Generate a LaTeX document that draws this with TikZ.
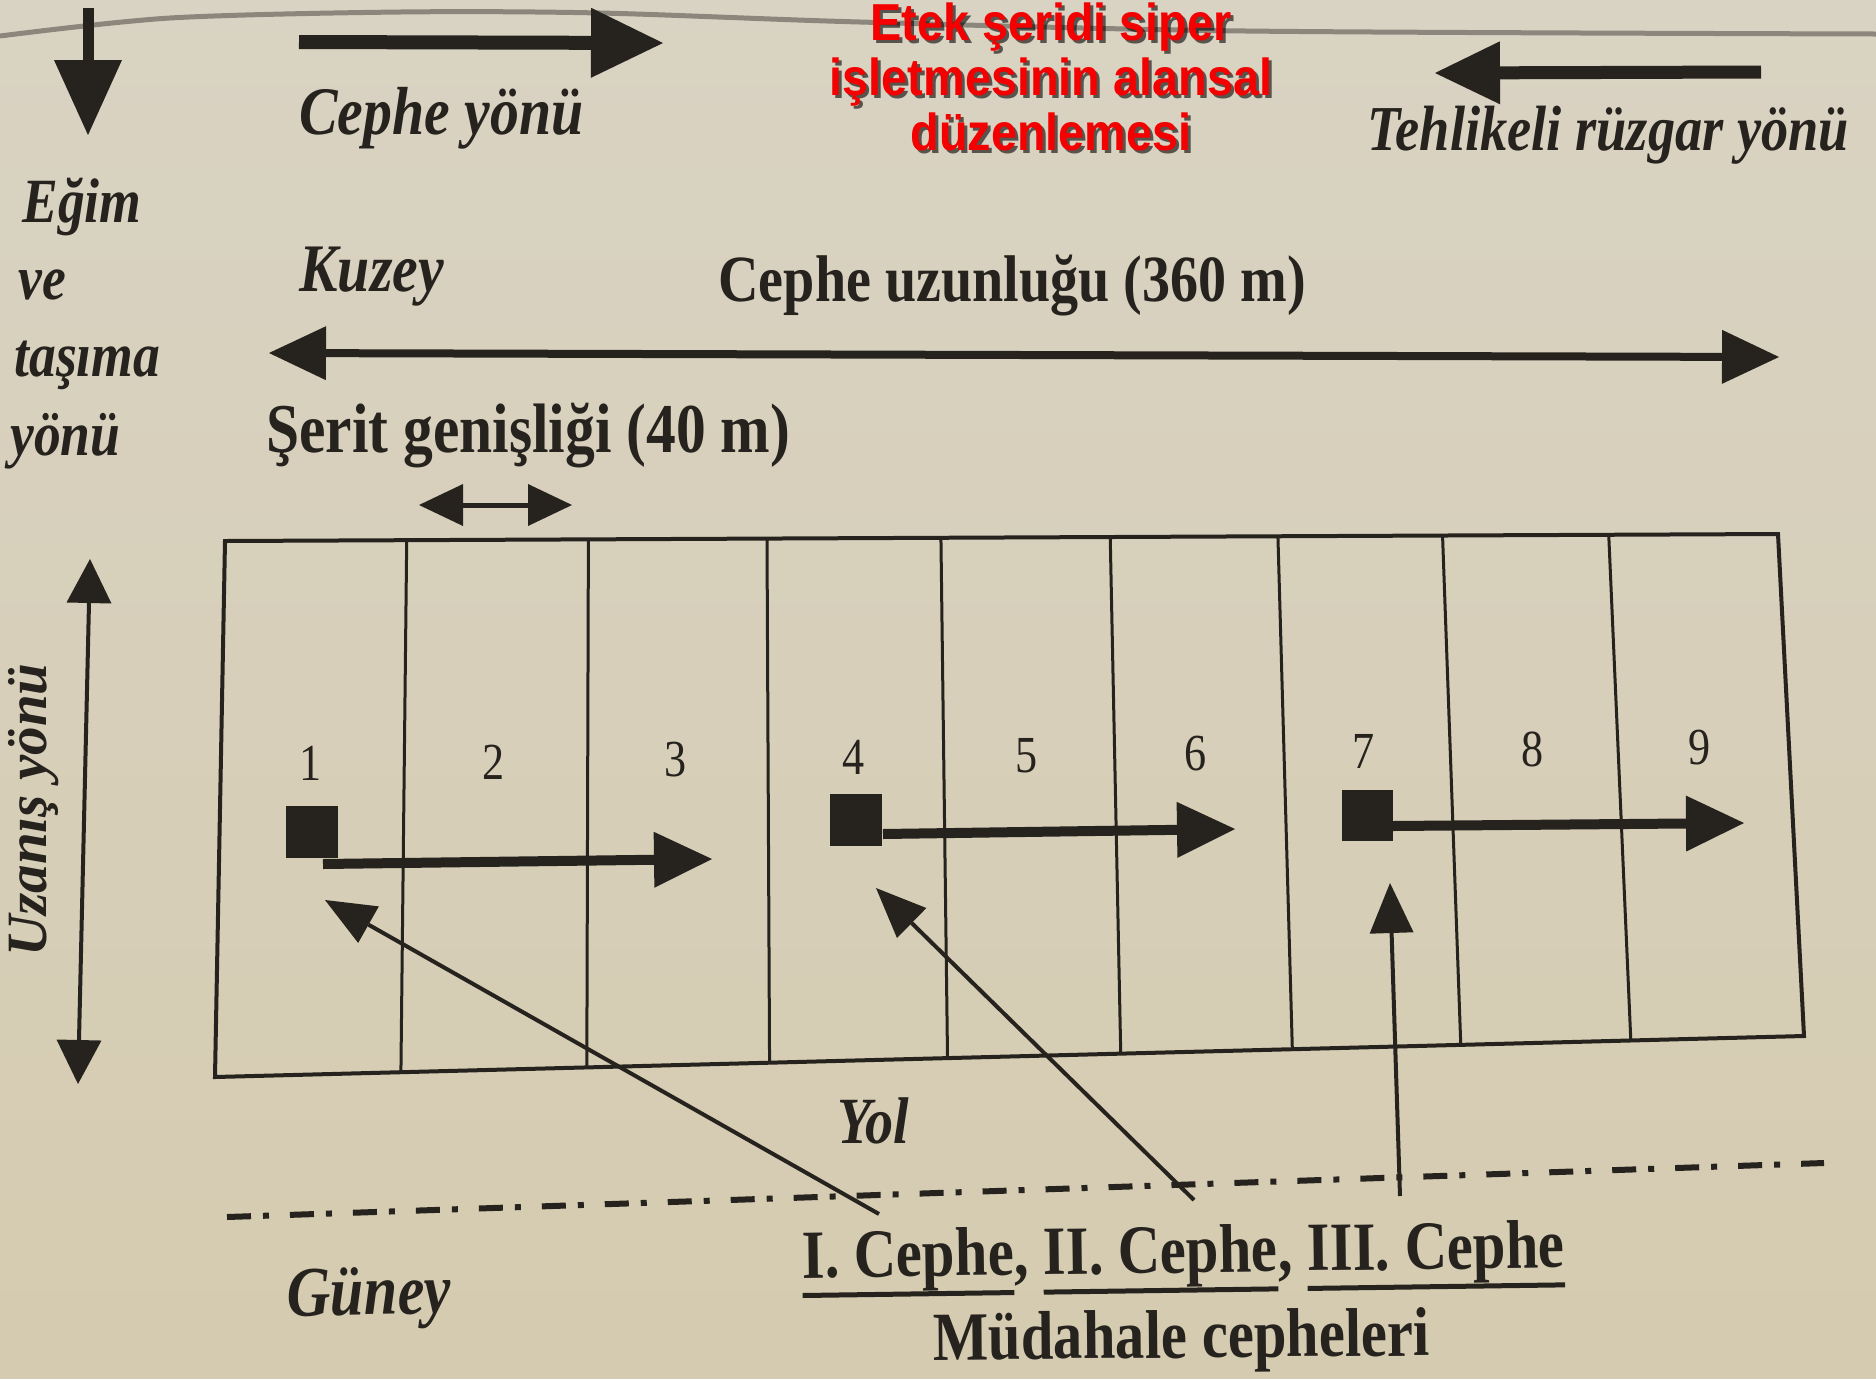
\documentclass[tikz,border=0pt]{standalone}
\usepackage{fontspec}
\setmainfont{Liberation Serif}
\newfontfamily\bookfont[FakeStretch=0.85]{Liberation Serif}
\newfontfamily\plainserif{Liberation Serif}
\newfontfamily\titlefont[FakeStretch=0.9]{Liberation Sans}
\usetikzlibrary{arrows.meta,calc}
\definecolor{paperA}{RGB}{217,211,195}
\definecolor{paperB}{RGB}{213,203,176}
\definecolor{ink}{RGB}{38,34,30}
\definecolor{pagegray}{RGB}{140,135,124}
\definecolor{titlered}{RGB}{245,0,0}
\newcommand\fsz[1]{\fontsize{#1}{#1}\selectfont}
\newcommand\myul[1]{\leavevmode\setbox0\hbox{#1}\rlap{\raisebox{-10pt}{\rule{\wd0}{2.5pt}}}\box0}
\tikzset{
  arr/.style n args={3}{draw=ink, line width=#1, -{Triangle[length=#2,width=#3,line width=0pt]}},
  darr/.style n args={3}{draw=ink, line width=#1, {Triangle[length=#2,width=#3,line width=0pt]}-{Triangle[length=#2,width=#3,line width=0pt]}},
  txt/.style={inner sep=0pt, text=ink},
  bi/.style={txt, font=\bookfont\bfseries\itshape\fsz{#1}},
  bu/.style={txt, font=\bookfont\bfseries\fsz{#1}},
  num/.style={txt, font=\bookfont\fsz{26}},
  titletxt/.style={inner sep=0pt, font=\titlefont\bfseries\fsz{26}, anchor=base},
  sq/.style={fill=ink, inner sep=0pt, minimum size=26pt},
  box/.style={draw=ink, line width=2pt},
  divider/.style={draw=ink, line width=1.5pt},
  dashdot/.style={draw=ink, line width=3pt, dash pattern=on 12pt off 6pt on 3pt off 10.5pt},
}
\begin{document}
\begin{tikzpicture}[x=0.5pt,y=-0.5pt]
\useasboundingbox (0,0) rectangle (1876,1378);
\shade[top color=paperA, bottom color=paperB] (0,0) rectangle (1876,1378);
% page edge curve
\draw[pagegray, line width=2.5pt] plot[smooth] coordinates {(0,36) (170,18) (400,12) (600,13) (860,22) (1246,31) (1876,34)};

% top arrows
\coordinate (egimS) at (88,8);
\coordinate (egimE) at (88,135);
\draw[arr={5.5pt}{37.5pt}{34pt}] (egimS) -- (egimE);
\coordinate (cyS) at (299,42);
\coordinate (cyE) at (663,43);
\draw[arr={7pt}{36pt}{35pt}] (cyS) -- (cyE);
\coordinate (trS) at (1761,72);
\coordinate (trE) at (1435,73);
\draw[arr={6.5pt}{32.5pt}{31.5pt}] (trS) -- (trE);

% title
\foreach \t/\yy in {{Etek şeridi siper}/40, {işletmesinin alansal}/95, {düzenlemesi}/150}{
  \node[titletxt, text=black, opacity=0.6] at ($(1051,\yy)+(3,3)$) {\t};
}
\node[titletxt, text=titlered] (title1) at (1051,40) {Etek şeridi siper};
\node[titletxt, text=titlered] (title2) at (1051,95) {işletmesinin alansal};
\node[titletxt, text=titlered] (title3) at (1051,150) {düzenlemesi};

% texts
\node[bi=34, anchor=base west] (cepheyonu) at (299,134) {Cephe yönü};
\node[bi=32, anchor=base west] (tehlike) at (1367,150) {Tehlikeli rüzgar yönü};
\node[bi=31.5, anchor=base west] (egim) at (22,222) {Eğim};
\node[bi=31.5, anchor=base west] (ve) at (18,299) {ve};
\node[bi=31.5, anchor=base west] (tasima) at (14,376) {taşıma};
\node[bi=31.5, anchor=base west] (yonu) at (10,455) {yönü};
\node[bi=34, anchor=base west] (kuzey) at (299,291) {Kuzey};
\node[bu=33, anchor=base west] (uzunluk) at (718,301) {Cephe uzunluğu (360 m)};
\node[bu=35, anchor=base west] (serit) at (266,452) {Şerit genişliği (40 m)};

% dimension arrows
\coordinate (lenL) at (269,353);
\coordinate (lenR) at (1779,357);
\draw[darr={4pt}{28.5pt}{27pt}] (lenL) -- (lenR);
\coordinate (widL) at (419,505);
\coordinate (widR) at (572,505);
\draw[darr={2.5pt}{22pt}{21pt}] (widL) -- (widR);
\coordinate (uzT) at (90,559);
\coordinate (uzB) at (78,1084);
\draw[darr={2pt}{22pt}{22.5pt}] (uzT) -- (uzB);
\node[txt, font=\plainserif\bfseries\itshape\fsz{28.5}, rotate=90] (uzanis) at (34,810) {Uzanış yönü};

% field
\coordinate (TL) at (225,541);
\coordinate (TR) at (1778,534);
\coordinate (BR) at (1804,1036);
\coordinate (BL) at (215,1077);
\foreach \f in {0.117,0.234,0.349,0.461,0.570,0.678,0.784,0.891}{
  \draw[divider] ($(TL)!\f!(TR)$) -- ($(BL)!\f!(BR)$);
}
\draw[box] (TL) -- (TR) -- (BR) -- (BL) -- cycle;

\foreach \n/\x/\y in {1/311/763, 2/494/762, 3/676/760, 4/854/757, 5/1027/756, 6/1196/754, 7/1364/751, 8/1533/749, 9/1700/748}{
  \node[num] (n\n) at (\x,\y) {\n};
}

\node[sq] (sq1) at (312,832) {};
\node[sq] (sq4) at (856,820) {};
\node[sq, minimum size=25.5pt] (sq7) at (1367,815) {};

\coordinate (f1S) at (323,864);
\coordinate (f1E) at (712,859);
\draw[arr={5pt}{29pt}{28pt}] (f1S) -- (f1E);
\coordinate (f2S) at (883,834);
\coordinate (f2E) at (1235,829);
\draw[arr={5pt}{29pt}{28pt}] (f2S) -- (f2E);
\coordinate (f3S) at (1393,826);
\coordinate (f3E) at (1744,823);
\draw[arr={5pt}{29pt}{28pt}] (f3S) -- (f3E);

% road
\coordinate (roadL) at (227,1217);
\coordinate (roadR) at (1824,1163);
\draw[dashdot] (roadL) -- (roadR);
\node[bi=33, anchor=base west] (yol) at (837,1143) {Yol};

% intervention arrows
\coordinate (d1S) at (879,1214);
\coordinate (d1E) at (325,900);
\draw[arr={2pt}{25pt}{21pt}] (d1S) -- (d1E);
\coordinate (d2S) at (1194,1200);
\coordinate (d2E) at (876,888);
\draw[arr={2pt}{25pt}{21pt}] (d2S) -- (d2E);
\coordinate (d3S) at (1400,1196);
\coordinate (d3E) at (1390,883);
\draw[arr={2pt}{25pt}{22pt}] (d3S) -- (d3E);

% bottom texts
\node[bi=35.5, anchor=base west, rotate=1] (guney) at (287,1316) {Güney};
\node[bu=34.5, anchor=base west, rotate=0.8] (cepheler) at (802,1278) {\myul{I. Cephe}, \myul{II. Cephe}, \myul{III. Cephe}};
\node[bu=34.5, anchor=base west, rotate=0.5] (mudahale) at (933,1360) {Müdahale cepheleri};
\end{tikzpicture}
\end{document}
